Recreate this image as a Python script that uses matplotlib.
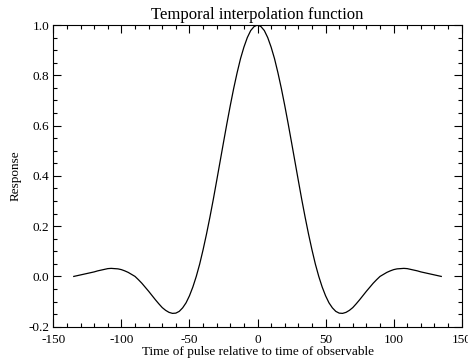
import matplotlib
matplotlib.use("Agg")
import matplotlib.pyplot as plt
from matplotlib.ticker import MultipleLocator, FormatStrFormatter

plt.rcParams['font.family'] = ['Liberation Serif', 'DejaVu Serif']
plt.rcParams['axes.unicode_minus'] = False

# Time offsets (non-negative half; curve is symmetric about 0)
t_half = [0, 2.5, 5, 7.5, 10, 12.5, 15, 17.5, 20, 22.5, 25, 27.5, 30, 32.5,
          35, 37.5, 40, 42.5, 45, 47.5, 50, 52.5, 55, 57.5, 60, 62.5, 65, 67.5,
          70, 72.5, 75, 77.5, 80, 82.5, 85, 87.5, 90, 92.5, 95, 97.5, 100,
          102.5, 105, 107.5, 110, 112.5, 115, 117.5, 120, 122.5, 125, 127.5,
          130, 132.5, 135]
resp_half = [1.0, 0.994, 0.978, 0.950, 0.912, 0.866, 0.810, 0.748, 0.680,
             0.608, 0.533, 0.457, 0.381, 0.306, 0.235, 0.168, 0.106, 0.049,
             0.0, -0.042, -0.077, -0.105, -0.125, -0.139, -0.146, -0.147,
             -0.143, -0.135, -0.124, -0.109, -0.093, -0.076, -0.059, -0.043,
             -0.027, -0.013, 0.0, 0.008, 0.016, 0.022, 0.027, 0.030, 0.031,
             0.032, 0.031, 0.028, 0.025, 0.022, 0.018, 0.015, 0.012, 0.009,
             0.006, 0.003, 0.0]

t = [-v for v in t_half[:0:-1]] + t_half
resp = resp_half[:0:-1] + resp_half

title = "Temporal interpolation function"
xlabel = "Time of pulse relative to time of observable"
ylabel = "Response"

fig = plt.figure(figsize=(4.68, 3.6), dpi=100)
ax = fig.add_axes([0.114, 0.0925, 0.8725, 0.838])
ax.plot(t, resp, color='black', lw=0.9)

ax.set_xlim(-150, 150)
ax.set_ylim(-0.2, 1.0)
ax.xaxis.set_major_locator(MultipleLocator(50))
ax.xaxis.set_minor_locator(MultipleLocator(10))
ax.yaxis.set_major_locator(MultipleLocator(0.2))
ax.yaxis.set_minor_locator(MultipleLocator(0.05))
ax.yaxis.set_major_formatter(FormatStrFormatter('%.1f'))
ax.xaxis.set_major_formatter(FormatStrFormatter('%d'))

ax.tick_params(which='both', direction='in', top=True, right=True,
               labelsize=9.5, width=0.8)
ax.tick_params(axis='x', pad=5)
ax.tick_params(axis='y', pad=3)
ax.tick_params(which='major', length=6)
ax.tick_params(which='minor', length=3)
for s in ax.spines.values():
    s.set_linewidth(0.8)

ax.set_title(title, fontsize=12, pad=4)
ax.set_xlabel(xlabel, fontsize=9.5, labelpad=0)
ax.set_ylabel(ylabel, fontsize=9.5, labelpad=5)

fig.savefig("out.png", dpi=100)
